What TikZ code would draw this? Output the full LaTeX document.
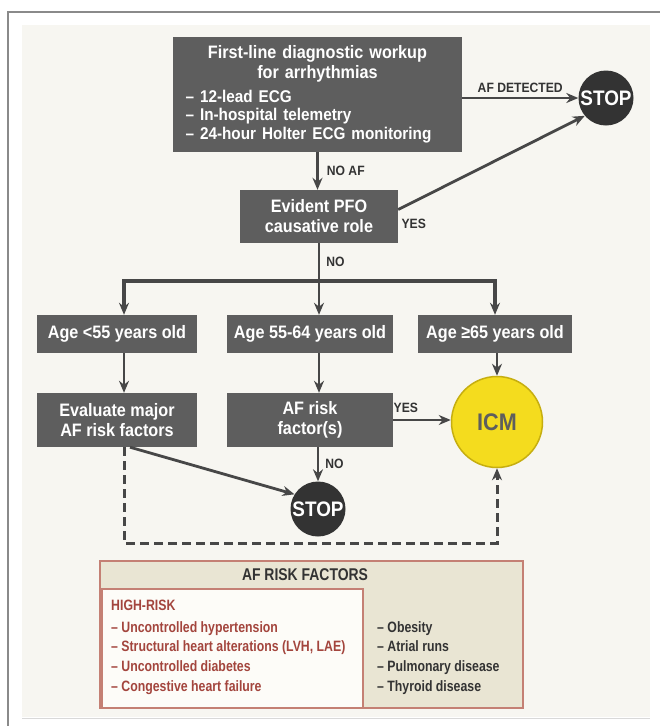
\documentclass[tikz,border=0pt]{standalone}
\usepackage{fontspec}
\setmainfont{Liberation Sans}[FakeStretch=0.9]
\newfontfamily\narrowfont{Liberation Sans}[FakeStretch=0.82,Ligatures=TeX]
\usetikzlibrary{positioning,arrows.meta}

\definecolor{panelbg}{HTML}{F7F6F1}
\definecolor{framegray}{HTML}{8A8A8A}
\definecolor{boxgray}{HTML}{5E5E5E}
\definecolor{linegray}{HTML}{474747}
\definecolor{stopgray}{HTML}{333333}
\definecolor{icmyellow}{HTML}{F4DC1E}
\definecolor{icmedge}{HTML}{C6AE10}
\definecolor{riskred}{HTML}{A3453D}
\definecolor{riskedge}{HTML}{C48074}
\definecolor{risktan}{HTML}{E9E5D3}
\definecolor{riskwhite}{HTML}{FDFCF8}

\newcommand{\boxfont}{\fontsize{18}{20}\selectfont\bfseries}
\newcommand{\itemfont}{\fontsize{17}{18.5}\selectfont}
\newcommand{\lblfont}{\fontsize{13.5}{15}\selectfont\bfseries}
\newcommand{\riskfont}{\narrowfont\fontsize{15}{19.7}\selectfont\bfseries}

\tikzset{
  darkbox/.style={rectangle, fill=boxgray, text=white, inner sep=0pt,
    align=center, font=\boxfont},
  stopdot/.style={circle, fill=stopgray, text=white, inner sep=0pt,
    minimum size=55pt, font=\fontsize{21}{21}\selectfont\bfseries},
  flow/.style={draw=linegray, line width=2.8pt, -{Stealth[length=12pt,width=10pt]}},
  dashflow/.style={flow, line width=3pt, dash pattern=on 9pt off 5pt},
  lbl/.style={font=\lblfont, text=stopgray, inner sep=2pt},
}

\begin{document}
\begin{tikzpicture}[x=1pt,y=-1pt]
\useasboundingbox (0,0) rectangle (660,726);
% background panel and frame
\fill[white] (0,0) rectangle (660,726);
\fill[panelbg] (22,25) rectangle (650,717);
\draw[black!15, line width=1pt] (22,718) -- (650,718);
\draw[framegray, line width=2pt] (8,726) -- (8,12) -- (660,12);

% boxes
\node[darkbox, minimum width=289pt, minimum height=115pt, text width=264pt] (work) at (317.5,94.5)
  {\parindent=0pt{\centering First-line diagnostic workup\\ for arrhythmias\par}\vspace{5pt}
   {\raggedright\itemfont – 12-lead ECG\\ – In-hospital telemetry\\ – 24-hour Holter ECG monitoring\par}};
\node[stopdot] (stopA) at (606,98) {STOP};
\node[darkbox, minimum width=158pt, minimum height=53pt] (pfo) at (319,216.5)
  {Evident PFO\\ causative role};
\coordinate (split) at (319,281);
\coordinate (colA) at (124,0);

\node[darkbox, minimum width=160pt, minimum height=38pt] (ageA) at (117,334) {Age <55 years old};
\node[darkbox, minimum width=166pt, minimum height=38pt] (ageB) at (310,334) {Age 55-64 years old};
\node[darkbox, minimum width=154pt, minimum height=38pt] (ageC) at (495,334) {Age ≥65 years old};

\node[darkbox, minimum width=160pt, minimum height=54pt] (evalA) at (117,420)
  {Evaluate major\\ AF risk factors};
\node[darkbox, minimum width=166pt, minimum height=54pt] (riskB) at (310,420)
  {AF risk\\ factor(s)};
\node[circle, fill=icmyellow, draw=icmedge, line width=1.5pt, minimum size=91pt,
  inner sep=0pt, text=boxgray, font=\fontsize{24}{24}\selectfont\bfseries] (icm) at (497,422) {ICM};
\node[stopdot] (stopB) at (318,509) {STOP};

% connectors
\draw[flow] (work.east |- stopA.west) -- (stopA.west)
  node[lbl, midway, above, yshift=2pt] {AF DETECTED};
\draw[flow] (work.south) -- (work.south |- pfo.north)
  node[lbl, midway, right, xshift=6pt] {NO AF};
\draw[flow] (pfo.5) -- (stopA.220)
  node[lbl, pos=0, anchor=north west, yshift=-6pt] {YES};
\draw[draw=linegray, line width=2.8pt] (pfo.south) -- (split)
  node[lbl, midway, right, xshift=4pt] {NO};
\draw[flow, line width=3.4pt] (split) -| (ageA.north -| colA);
\draw[flow, line width=3.4pt] (split) -| (ageC.north);
\draw[flow] (split) -- (split |- ageB.north);

\draw[flow] (ageA.south -| colA) -- (evalA.north -| colA);
\draw[flow] (ageB.south -| split) -- (riskB.north -| split);
\draw[flow] (ageC.south -| icm) -- (icm.north);
\draw[flow] (riskB.east) -- (riskB.east -| icm.west)
  node[lbl, pos=0.22, above, yshift=4pt] {YES};
\draw[flow] (riskB.south -| stopB) -- (stopB.north)
  node[lbl, midway, right, xshift=4pt] {NO};
\draw[flow] ([xshift=13pt]evalA.south) -- (stopB.148);
\coordinate (loopY) at (0,543);
\draw[dashflow] (evalA.south -| colA) -- (colA |- loopY) -| (icm.south);

% risk factor table
\fill[risktan] (100,561) rectangle (523,708);
\draw[riskedge, fill=riskwhite, line width=1.2pt] (102,589) rectangle (363,708);
\draw[riskedge, line width=1.5pt] (100,561) rectangle (523,708);
\node[font=\narrowfont\fontsize{17}{17}\selectfont\bfseries, text=stopgray] (riskhead) at (305,575) {AF RISK FACTORS};
\node[font=\riskfont, text=riskred, anchor=west, inner sep=0pt] (highrisk) at (111,605) {HIGH-RISK};
\node[font=\riskfont, text=riskred, anchor=north west, align=left, inner sep=0pt] (highlist) at (111,621)
  {– Uncontrolled hypertension\\ – Structural heart alterations (LVH, LAE)\\
   – Uncontrolled diabetes\\ – Congestive heart failure};
\node[font=\riskfont, text=stopgray, anchor=north west, align=left, inner sep=0pt] (otherlist) at (377,621)
  {– Obesity\\ – Atrial runs\\ – Pulmonary disease\\ – Thyroid disease};
\end{tikzpicture}
\end{document}
